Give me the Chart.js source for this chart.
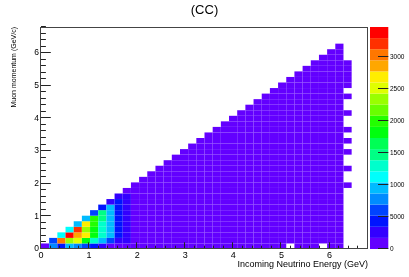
<!DOCTYPE html>
<html>
<head>
<meta charset="utf-8">
<script src="https://cdn.jsdelivr.net/npm/chart.js@4/dist/chart.umd.min.js"></script>
<style>
  html, body { margin: 0; padding: 0; background: #fff; }
</style>
</head>
<body>
<canvas id="hist" width="409" height="277"></canvas>
<script>
// binning, GeV
const energyRange = [0, 6.8];
const momentumRange = [0, 6.8];
const nBins = 40;

// counts in the low energy corner: one array per energy bin, momentum bins from 0 upward
const lowCounts = [
  [110],
  [790, 600],
  [440, 3050, 1110],
  [960, 2330, 3390, 1130],
  [770, 2520, 2870, 3220, 940],
  [620, 1830, 2700, 2350, 2680, 930],
  [420, 1290, 1850, 1870, 1960, 1990, 620],
  [270, 950, 1310, 1290, 1330, 1460, 1480, 410],
  [160, 600, 930, 950, 960, 940, 920, 970, 250],
  [120, 280, 440, 430, 420, 410, 430, 420, 400, 260],
  [90, 230, 250, 240, 250, 240, 240, 230, 220, 210, 120]
];
// energy bins 11..36, flat in momentum (all in the lowest colour band)
const bulkCounts = [152, 141, 133, 122, 117, 108, 104, 97, 90, 87, 79, 74, 71,
                    64, 61, 55, 52, 47, 45, 39, 36, 33, 27, 25, 21, 17];
// last energy bin (37) is only partly filled
const edgeRows = [11, 14, 17, 19, 21, 24, 27, 29, 30, 31, 32, 33];
const edgeCount = 6;
const emptyCells = [[30, 0], [34, 0]];

const zMax = 3470;
const nContours = 20;
const axisTicks = [0, 1, 2, 3, 4, 5, 6];
const zTicks = [0, 500, 1000, 1500, 2000, 2500, 3000];
const zTickLabels = ['0', '5000', '1000', '1500', '2000', '2500', '3000'];

const FONT = "'Liberation Sans', Arial, sans-serif";

// ROOT "pretty" palette (50 colours violet -> red), 20 contours
function paletteColor(z) {
  const band = Math.min(nContours - 1, Math.floor(z / (zMax / nContours)));
  const idx = Math.floor((band + 0.99) * 50 / nContours);
  const hue = 280 - (idx + 1) * 5.6;
  return 'hsl(' + hue + ', 100%, 50%)';
}

const binW = (energyRange[1] - energyRange[0]) / nBins;
const binH = (momentumRange[1] - momentumRange[0]) / nBins;
const cells = [];
function addCell(ix, iy, n) {
  cells.push({
    x: energyRange[0] + (ix + 0.5) * binW,
    y: [momentumRange[0] + iy * binH, momentumRange[0] + (iy + 1) * binH],
    n: n
  });
}
lowCounts.forEach((col, ix) => col.forEach((n, iy) => addCell(ix, iy, n)));
bulkCounts.forEach((n, k) => {
  const ix = lowCounts.length + k;
  for (let iy = 0; iy <= ix; iy++) {
    if (!emptyCells.some(c => c[0] === ix && c[1] === iy)) addCell(ix, iy, n);
  }
});
edgeRows.forEach(iy => addCell(lowCounts.length + bulkCounts.length, iy, edgeCount));

const rootFrame = {
  id: 'rootFrame',
  afterDraw(chart) {
    const { ctx, chartArea: a, scales: { x, y, z } } = chart;
    ctx.save();
    // colour scale
    const bw = zMax / nContours;
    for (let k = 0; k < nContours; k++) {
      const top = z.getPixelForValue((k + 1) * bw);
      const bot = z.getPixelForValue(k * bw);
      ctx.fillStyle = paletteColor((k + 0.5) * bw);
      ctx.fillRect(z.left + 2, top, 18.3, bot - top);
    }
    ctx.strokeStyle = '#222';
    ctx.lineWidth = 1;
    ctx.beginPath();
    zTicks.forEach(v => {
      const py = Math.round(z.getPixelForValue(v)) - 0.5;
      ctx.moveTo(z.left + 20.3, py);
      ctx.lineTo(z.left + 10, py);
    });
    // axis ticks, inside the frame
    for (let i = 0; i <= 34; i++) {
      const v = i * 0.2;
      const major = i % 5 === 0;
      const px = Math.round(x.getPixelForValue(v)) - 0.5;
      ctx.moveTo(px, a.bottom);
      ctx.lineTo(px, a.bottom - (major ? 6.7 : 3.3));
      const py = Math.round(y.getPixelForValue(v)) - 0.5;
      ctx.moveTo(a.left, py);
      ctx.lineTo(a.left + (major ? 9.8 : 4.9), py);
    }
    ctx.stroke();
    // frame
    ctx.strokeStyle = '#444';
    ctx.strokeRect(Math.round(a.left) - 0.5, Math.round(a.top) + 0.5,
                   Math.round(a.right - a.left), Math.round(a.bottom - a.top) - 1);
    ctx.restore();
  }
};

new Chart(document.getElementById('hist'), {
  type: 'bar',
  data: {
    datasets: [{
      data: cells,
      backgroundColor: cells.map(c => paletteColor(c.n)),
      borderWidth: 0,
      inflateAmount: 0,
      barPercentage: 1,
      categoryPercentage: 1
    }]
  },
  options: {
    responsive: false,
    devicePixelRatio: 1,
    animation: false,
    layout: { padding: 0 },
    plugins: {
      legend: { display: false },
      tooltip: { enabled: false },
      title: {
        display: true,
        text: '(CC)',
        color: '#000',
        font: { family: FONT, size: 13, weight: 'normal' },
        padding: { top: 3, bottom: 8.4 }
      }
    },
    scales: {
      x: {
        type: 'linear',
        min: energyRange[0],
        max: energyRange[1],
        offset: false,
        grid: { display: false, drawTicks: false },
        border: { display: false },
        ticks: { color: '#000', font: { family: FONT, size: 9 }, padding: 1,
                 maxRotation: 0, autoSkip: false, includeBounds: false },
        afterBuildTicks: s => { s.ticks = axisTicks.map(v => ({ value: v })); },
        afterFit: s => { s.height = 28; },
        title: {
          display: true, align: 'end', text: 'Incoming Neutrino Energy (GeV)',
          color: '#000', font: { family: FONT, size: 9 },
          padding: { top: 0, bottom: 6.6 }
        }
      },
      y: {
        type: 'linear',
        min: momentumRange[0],
        max: momentumRange[1],
        grid: { display: false, drawTicks: false },
        border: { display: false },
        ticks: { color: '#000', font: { family: FONT, size: 8.5 }, padding: 2,
                 autoSkip: false, includeBounds: false },
        afterBuildTicks: s => { s.ticks = axisTicks.map(v => ({ value: v })); },
        afterFit: s => { s.width = 41; },
        title: {
          display: true, align: 'end', text: 'Muon momentum (GeV/c)',
          color: '#000', font: { family: FONT, size: 7 },
          padding: { top: 9.8, bottom: 0 }
        }
      },
      z: {
        type: 'linear',
        axis: 'y',
        position: 'right',
        min: 0,
        max: zMax,
        grid: { display: false, drawTicks: false },
        border: { display: false },
        ticks: { color: '#000', font: { family: FONT, size: 6.5 }, padding: 22,
                 autoSkip: false, includeBounds: false,
                 callback: (v, i) => zTickLabels[i] },
        afterBuildTicks: s => { s.ticks = zTicks.map(v => ({ value: v })); },
        afterFit: s => { s.width = 41; }
      }
    }
  },
  plugins: [rootFrame]
});
</script>
</body>
</html>
